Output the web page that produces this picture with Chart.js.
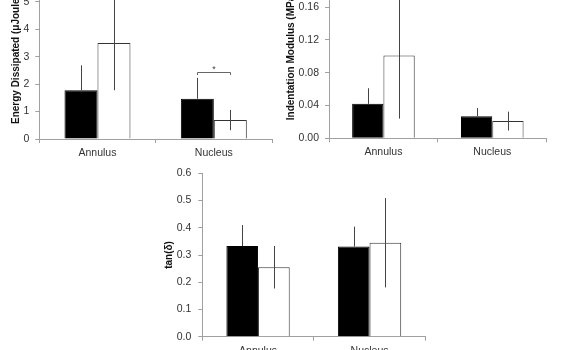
<!DOCTYPE html>
<html>
<head>
<meta charset="utf-8">
<script src="https://cdn.jsdelivr.net/npm/chart.js@4.4.0/dist/chart.umd.min.js"></script>
<style>
html,body{margin:0;padding:0;background:#fff;width:570px;height:350px;overflow:hidden;position:relative;}
canvas{position:absolute;}
</style>
</head>
<body>
<canvas id="c1" width="285" height="200" style="left:0px;top:-40px;"></canvas>
<canvas id="c2" width="290" height="200" style="left:280px;top:-40px;"></canvas>
<canvas id="c3" width="300" height="210" style="left:140px;top:160px;"></canvas>
<script>
// ---- data ----
const categories = ['Annulus', 'Nucleus'];

const energyBlack = [1.78, 1.47];
const energyBlackErr = [0.91, 0.76];
const energyWhite = [3.50, 0.69];
const energyWhiteErr = [1.72, 0.37];
const energyTicks = [0, 1, 2, 3, 4, 5, 6];

const modulusBlack = [0.042, 0.027];
const modulusBlackErr = [0.019, 0.0098];
const modulusWhite = [0.101, 0.021];
const modulusWhiteErr = [0.077, 0.0115];
const modulusTicks = [0, 0.04, 0.08, 0.12, 0.16, 0.20];

const tanBlack = [0.333, 0.331];
const tanBlackErr = [0.077, 0.073];
const tanWhite = [0.255, 0.345];
const tanWhiteErr = [0.078, 0.164];
const tanTicks = [0, 0.1, 0.2, 0.3, 0.4, 0.5, 0.6];

// significance bracket: [category index, value level]
const energySignif = [1, 2.46];

Chart.defaults.font.family = '"Liberation Sans", Arial, sans-serif';
Chart.defaults.color = '#333';

const AXIS = '#a0a0a0';

const errorBarPlugin = {
  id: 'errorBars',
  afterDatasetsDraw(chart) {
    const ctx = chart.ctx;
    const ys = chart.scales.y;
    ctx.save();
    ctx.strokeStyle = '#444';
    ctx.lineWidth = 1;
    chart.data.datasets.forEach((ds, di) => {
      const meta = chart.getDatasetMeta(di);
      meta.data.forEach((bar, i) => {
        const v = ds.data[i], e = ds.errors[i];
        const x = Math.round(bar.x) + 0.5;
        const yTop = ys.getPixelForValue(v + e);
        const yBot = ds.upOnly ? ys.getPixelForValue(v) : ys.getPixelForValue(v - e);
        ctx.beginPath();
        ctx.moveTo(x, yTop);
        ctx.lineTo(x, yBot);
        ctx.stroke();
      });
    });
    const sig = chart.options.plugins.signif;
    if (sig && sig.at) {
      const [ci, lvl] = sig.at;
      const x1 = Math.round(chart.getDatasetMeta(0).data[ci].x) + 0.5;
      const x2 = Math.round(chart.getDatasetMeta(1).data[ci].x) + 0.5;
      const y = Math.round(ys.getPixelForValue(lvl)) + 0.5;
      ctx.strokeStyle = '#666';
      ctx.beginPath();
      ctx.moveTo(x1, y + 2.5);
      ctx.lineTo(x1, y);
      ctx.lineTo(x2, y);
      ctx.lineTo(x2, y + 2.5);
      ctx.stroke();
      ctx.fillStyle = '#444';
      ctx.font = '9px "Liberation Sans", Arial, sans-serif';
      ctx.textAlign = 'center';
      ctx.textBaseline = 'middle';
      ctx.fillText('*', (x1 + x2) / 2, y - 3);
    }
    ctx.restore();
  }
};

function makeChart(id, p) {
  const ctx = document.getElementById(id).getContext('2d');
  return new Chart(ctx, {
    type: 'bar',
    data: {
      labels: categories,
      datasets: [
        {data: p.black, errors: p.blackErr, upOnly: true,
         backgroundColor: '#000', borderColor: '#000', borderWidth: 1,
         categoryPercentage: p.catPct, barPercentage: 1.0},
        {data: p.white, errors: p.whiteErr, upOnly: false,
         backgroundColor: '#fff', borderColor: '#333', borderWidth: 1,
         categoryPercentage: p.catPct, barPercentage: 1.0}
      ]
    },
    options: {
      responsive: false,
      animation: false,
      devicePixelRatio: 1,
      layout: {padding: {left: 0, right: p.padRight, top: p.padTop, bottom: 0}},
      plugins: {
        legend: {display: false},
        tooltip: {enabled: false},
        signif: {at: p.signif || null}
      },
      scales: {
        x: {
          grid: {display: true, drawOnChartArea: false, drawTicks: true, tickLength: 4, color: AXIS, offset: true},
          border: {display: true, color: AXIS, width: 1},
          ticks: {font: {size: 10.5}, color: '#333', padding: 4, maxRotation: 0},
          afterFit(s) { s.height = p.xHeight; }
        },
        y: {
          min: p.ticks[0],
          max: p.ticks[p.ticks.length - 1],
          afterBuildTicks(s) { s.ticks = p.ticks.map(v => ({value: v})); },
          grid: {display: true, drawOnChartArea: false, drawTicks: true, tickLength: 4, color: AXIS},
          border: {display: true, color: AXIS, width: 1},
          ticks: {font: {size: 10.5}, color: '#333', padding: p.tickPad,
                  callback: v => Number(v).toFixed(p.decimals)},
          title: {display: true, text: p.title, font: {size: 10, weight: 'bold'}, color: '#111',
                  padding: {top: p.titlePad, bottom: 0}},
          afterFit(s) { s.width = p.yWidth; }
        }
      }
    },
    plugins: [errorBarPlugin]
  });
}

makeChart('c1', {
  black: energyBlack, blackErr: energyBlackErr,
  white: energyWhite, whiteErr: energyWhiteErr,
  ticks: energyTicks, decimals: 0, title: 'Energy Dissipated (μJoules)',
  yWidth: 39.3, padRight: 13, padTop: 14.6, xHeight: 21, titlePad: 10.5, tickPad: 6,
  catPct: 0.567, signif: energySignif
});

makeChart('c2', {
  black: modulusBlack, blackErr: modulusBlackErr,
  white: modulusWhite, whiteErr: modulusWhiteErr,
  ticks: modulusTicks, decimals: 2, title: 'Indentation Modulus (MPa)',
  yWidth: 49, padRight: 23.3, padTop: 14.3, xHeight: 21.7, titlePad: 5.5, tickPad: 6,
  catPct: 0.575
});

makeChart('c3', {
  black: tanBlack, blackErr: tanBlackErr,
  white: tanWhite, whiteErr: tanWhiteErr,
  ticks: tanTicks, decimals: 1, title: 'tan(δ)',
  yWidth: 62.3, padRight: 14.7, padTop: 13.3, xHeight: 33.3, titlePad: 23, tickPad: 7,
  catPct: 0.568
});
</script>
</body>
</html>
